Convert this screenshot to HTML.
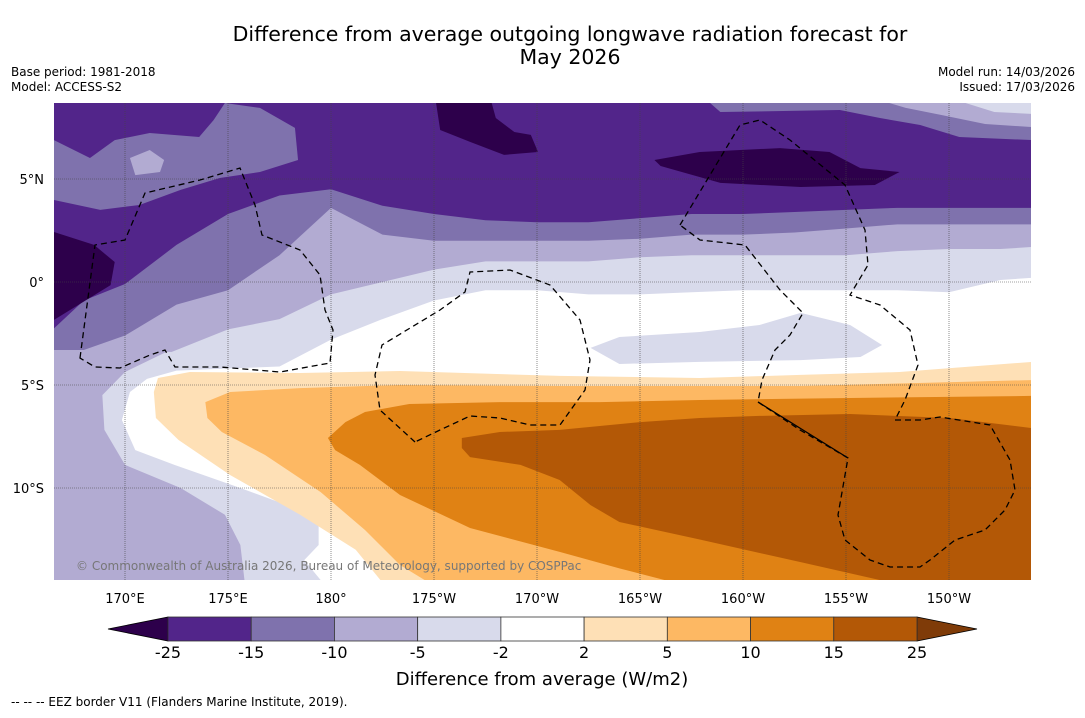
<!DOCTYPE html>
<html><head><meta charset="utf-8"><style>
body{margin:0;background:#fff;font-family:"Liberation Sans","DejaVu Sans",sans-serif;}
svg text{font-family:"DejaVu Sans","Liberation Sans",sans-serif;}
</style></head><body>
<svg id="chart" width="1085" height="713" viewBox="0 0 1085 713" xmlns="http://www.w3.org/2000/svg">
<rect width="1085" height="713" fill="#fff"/>
<text x="570" y="41" font-size="20.5" text-anchor="middle">Difference from average outgoing longwave radiation forecast for</text>
<text x="570" y="64" font-size="20.5" text-anchor="middle">May 2026</text>
<text x="11" y="76" font-size="12">Base period: 1981-2018</text>
<text x="11" y="91" font-size="12">Model: ACCESS-S2</text>
<text x="1075" y="76" font-size="12" text-anchor="end">Model run: 14/03/2026</text>
<text x="1075" y="91" font-size="12" text-anchor="end">Issued: 17/03/2026</text>
<defs><clipPath id="mapclip"><rect x="54" y="103" width="977" height="477"/></clipPath></defs>
<g id="map" clip-path="url(#mapclip)">
<rect x="54" y="103" width="977" height="477" fill="#fff"/>
<g id="fills"></g>
<g id="grid"></g>
<g fill="none" stroke="#000" stroke-width="1.3" stroke-dasharray="6,4">
<path d="M80,358 L95,245 L125,240 L145,193 L200,180 L240,168 L255,205 L262,235 L300,250 L320,275 L325,310 L333,330 L330,363 L280,372 L220,367 L175,367 L165,350 L150,355 L120,368 L95,367 Z"/>
<path d="M415,442 L380,410 L375,375 L382,345 L440,310 L465,292 L470,272 L510,270 L550,285 L580,320 L590,360 L585,390 L560,425 L530,425 L500,418 L470,416 L440,430 Z"/>
<path d="M680,225 L740,125 L760,120 L790,140 L845,185 L865,230 L868,265 L850,295 L880,305 L910,330 L918,365 L905,400 L895,420 L920,420 L940,417 L990,425 L1010,460 L1015,490 L1005,510 L985,530 L955,540 L930,560 L920,567 L890,567 L870,560 L845,540 L838,515 L848,458 L800,430 L758,402 L762,380 L775,350 L790,335 L803,313 L780,290 L745,245 L700,240 Z"/>
</g>
<path d="M758,402 L848,458" stroke="#000" stroke-width="1.3"/>
<text x="76" y="570" font-size="12" fill="#777">© Commonwealth of Australia 2026, Bureau of Meteorology, supported by COSPPac</text>
</g>
<g id="axislabels"></g>
<g id="colorbar"></g>
<text x="542" y="685" font-size="18" text-anchor="middle">Difference from average (W/m2)</text>
<text x="11" y="706" font-size="12">--  --  -- EEZ border V11 (Flanders Marine Institute, 2019).</text>
</svg>
<script>
// ---- data ----
const cbLevels = [-25,-15,-10,-5,-2,2,5,10,15,25];
const cbColors = ["#52258a","#7f72ad","#b2abd2","#d8daeb","#ffffff","#fee0b6","#fdb863","#e08214","#b35806"];
const cbUnder = "#2d004b";
const cbOver = "#7f3b08";
const lonTicks = [170,175,180,185,190,195,200,205,210];
const lonTickLabels = ["170°E","175°E","180°","175°W","170°W","165°W","160°W","155°W","150°W"];
const latTicks = [5,0,-5,-10];
const latTickLabels = ["5°N","0°","5°S","10°S"];
const gridLon = [166.5,168,170,172.5,175,177.5,180,182.5,185,187.5,190,192.5,195,197.5,200,202.5,205,207.5,210,212.5,214];
const edgeMinus2 = [-14.5,-14.5,-5.0,-4.3,-4.2,-4.1,-2.8,-1.8,-0.9,-0.4,-0.4,-0.6,-0.6,-0.5,-0.4,-0.4,-0.4,-0.4,-0.5,0.1,0.2];
const edgeMinus5 = [-14.5,-14.5,-4.3,-3.3,-2.3,-1.8,-0.6,0,0.6,1.0,1.0,1.0,1.2,1.3,1.3,1.3,1.3,1.5,1.6,1.6,1.7];
const edgeMinus10 = [-4.3,-3.3,-2.6,-1.1,-0.4,1.3,3.6,2.3,2.0,2.0,2.0,2.0,2.1,2.3,2.3,2.4,2.6,2.8,2.8,2.8,2.8];
const edgeMinus15 = [-2.3,-0.9,-0.1,1.8,3.3,4.2,4.5,3.7,3.3,3.0,2.9,2.9,3.1,3.3,3.3,3.4,3.5,3.6,3.6,3.6,3.6];
const patchTopLeftM10 = [[166.55,6.89],[168.3,6.02],[169.5,6.89],[171.2,7.23],[173.6,7.04],[174.3,7.86],[174.85,8.69],[176.55,8.45],[178.25,7.48],[178.4,5.92],[176.55,5.34],[174.6,5.05],[172.7,4.47],[170.7,3.74],[168.8,3.5],[166.55,3.98]];
const patchBlobM5 = [[170.24,6.02],[171.2,6.41],[171.9,5.92],[171.7,5.34],[170.5,5.19]];
const patchDarkLeft = [[166.55,2.43],[168.5,1.8],[169.5,0.97],[169.3,-0.15],[166.55,-1.84]];
const patchDarkTop = [[185.1,8.69],[187.8,8.69],[188.0,7.96],[188.9,7.28],[189.7,7.14],[190.05,6.31],[188.4,6.17],[186.75,6.8],[185.3,7.38]];
const patchDarkRight = [[195.7,5.92],[197.9,6.31],[201.8,6.5],[204.2,6.31],[205.7,5.53],[207.6,5.34],[206.4,4.71],[202.8,4.61],[198.9,4.81],[196.0,5.63]];
const patchTopRightM10 = [[198.4,8.69],[214,8.69],[214,6.89],[210.5,7.04],[208.6,7.62],[206.65,7.96],[204.7,8.35],[198.9,8.25]];
const patchTopRightM5 = [[207.1,8.69],[214,8.69],[214,7.52],[211.75,7.67],[209.6,8.11],[207.9,8.45]];
const patchTopRightM2 = [[210.8,8.69],[214,8.69],[214,8.16],[212.2,8.25]];
const patchEqM2 = [[192.6,-3.2],[194.0,-2.67],[197.9,-2.43],[200.8,-2.09],[202.8,-1.5],[205.2,-2.09],[206.75,-3.06],[205.7,-3.64],[202.8,-3.79],[197.9,-3.88],[194.0,-3.98]];
const patchSWm2 = [[166.55,-3.3],[172.4,-3.4],[171.5,-4.37],[170.24,-5.34],[169.85,-6.7],[170.5,-8.16],[172.4,-8.88],[175.6,-10.0],[178.25,-10.97],[179.4,-11.8],[179.4,-12.77],[178.7,-13.5],[179.5,-14.47],[166.55,-14.47]];
const patchSWm5 = [[166.55,-3.3],[172.2,-3.3],[170.0,-4.37],[168.9,-5.49],[169.0,-7.18],[170.0,-8.88],[172.7,-10.0],[174.85,-11.3],[175.6,-12.77],[175.8,-14.47],[166.55,-14.47]];
const regionP2 = [[171.6,-4.66],[173.15,-4.37],[178.5,-4.42],[183.35,-4.32],[191.1,-4.56],[197.9,-4.66],[202.8,-4.51],[207.6,-4.37],[214,-3.88],[214,-14.47],[182.4,-14.47],[181.2,-13.0],[178.5,-11.3],[175.1,-9.37],[172.6,-7.67],[171.5,-6.6],[171.4,-5.34]];
const regionP5 = [[173.9,-5.83],[175.1,-5.34],[178.5,-5.15],[183.35,-5.0],[191.1,-5.05],[202.8,-5.05],[214,-4.76],[214,-14.47],[184.55,-14.47],[183.35,-13.74],[181.65,-12.04],[179.5,-10.2],[176.8,-8.4],[174.7,-7.28],[174.0,-6.6]];
const regionP10 = [[179.85,-7.57],[180.7,-6.8],[181.65,-6.31],[183.8,-5.92],[188.2,-5.83],[193.05,-5.83],[197.9,-5.73],[205.2,-5.63],[214,-5.53],[214,-14.47],[196.2,-14.47],[194.0,-13.9],[191.1,-13.1],[186.75,-11.94],[183.35,-10.34],[181.4,-8.88],[180.2,-8.16]];
const regionP15 = [[186.35,-7.57],[188.2,-7.28],[191.1,-7.18],[195.0,-6.8],[197.9,-6.6],[200.8,-6.5],[205.2,-6.41],[210.05,-6.6],[214,-7.09],[214,-14.47],[206.65,-14.47],[202.8,-13.6],[197.9,-12.5],[194.0,-11.65],[192.6,-10.83],[191.1,-9.61],[189.2,-8.88],[186.75,-8.5],[186.35,-8.06]];

const X = lon => 125 + (lon - 170) * 20.6;
const Y = lat => 282 - lat * 20.6;
const TOP = 8.69;
const NS = "http://www.w3.org/2000/svg";
function mk(tag, attrs, parent){const e=document.createElementNS(NS,tag);for(const k in attrs)e.setAttribute(k,attrs[k]);parent.appendChild(e);return e;}
const fills = document.getElementById('fills');
function bandAbove(edge, color, name){
  let d = 'M' + X(gridLon[0]) + ',' + Y(TOP);
  gridLon.forEach((l,i)=>{ if(i>0) d += ' L' + X(l) + ',' + Y(TOP); });
  for(let i=gridLon.length-1;i>=0;i--) d += ' L' + X(gridLon[i]) + ',' + Y(edge[i]);
  const p = mk('path',{d:d+'Z',fill:color},fills);
  
  
}
function poly(pts, color, name){
  const p = mk('polygon',{points:pts.map(q=>X(q[0])+','+Y(q[1])).join(' '),fill:color},fills);
  
  
}
bandAbove(edgeMinus2, cbColors[3], 'band-minus2-to-minus5');
bandAbove(edgeMinus5, cbColors[2], 'band-minus5-to-minus10');
bandAbove(edgeMinus10, cbColors[1], 'band-minus10-to-minus15');
bandAbove(edgeMinus15, cbColors[0], 'band-minus15-to-minus25');
poly(patchTopLeftM10, cbColors[1], 'patch-topleft-minus10');
poly(patchBlobM5, cbColors[2], 'patch-blob-minus5');
poly(patchDarkLeft, cbUnder, 'patch-dark-left');
poly(patchDarkTop, cbUnder, 'patch-dark-top');
poly(patchDarkRight, cbUnder, 'patch-dark-right');
poly(patchTopRightM10, cbColors[1], 'patch-topright-minus10');
poly(patchTopRightM5, cbColors[2], 'patch-topright-minus5');
poly(patchTopRightM2, cbColors[3], 'patch-topright-minus2');
poly(patchEqM2, cbColors[3], 'patch-equatorial-minus2');
poly(patchSWm2, cbColors[3], 'patch-southwest-minus2');
poly(patchSWm5, cbColors[2], 'patch-southwest-minus5');
poly(regionP2, cbColors[5], 'region-plus2');
poly(regionP5, cbColors[6], 'region-plus5');
poly(regionP10, cbColors[7], 'region-plus10');
poly(regionP15, cbColors[8], 'region-plus15');

const grid = document.getElementById('grid');
const axl = document.getElementById('axislabels');
lonTicks.forEach((l,i)=>{
  const ln = mk('line',{x1:X(l),x2:X(l),y1:103,y2:580,stroke:'#444','stroke-width':0.6,'stroke-dasharray':'1,1'},grid);
  
  
  const t = mk('text',{x:X(l),y:603,'font-size':13,'text-anchor':'middle'},axl);
  t.textContent = lonTickLabels[i];
  
  
});
latTicks.forEach((l,i)=>{
  const ln = mk('line',{x1:54,x2:1031,y1:Y(l),y2:Y(l),stroke:'#444','stroke-width':0.6,'stroke-dasharray':'1,1'},grid);
  
  
  const t = mk('text',{x:44,y:Y(l)+5,'font-size':13,'text-anchor':'end'},axl);
  t.textContent = latTickLabels[i];
  
  
});

const cb = document.getElementById('colorbar');
const cbX0 = 168, cbX1 = 917, cbY = 617, cbH = 24;
const cbW = (cbX1 - cbX0) / cbColors.length;
const tri1 = mk('polygon',{points:`${cbX0},${cbY} 108,${cbY+cbH/2} ${cbX0},${cbY+cbH}`,fill:cbUnder,stroke:'#000','stroke-width':0.8},cb);


const tri2 = mk('polygon',{points:`${cbX1},${cbY} 977,${cbY+cbH/2} ${cbX1},${cbY+cbH}`,fill:cbOver,stroke:'#000','stroke-width':0.8},cb);


cbColors.forEach((c,i)=>{
  const r = mk('rect',{x:cbX0+i*cbW,y:cbY,width:cbW,height:cbH,fill:c,stroke:'#333','stroke-width':0.8},cb);
  
  
});
cbLevels.forEach((v,i)=>{
  const t = mk('text',{x:cbX0+i*cbW,y:658,'font-size':16,'text-anchor':'middle'},cb);
  t.textContent = v;
  
  
});
</script>
</body></html>
